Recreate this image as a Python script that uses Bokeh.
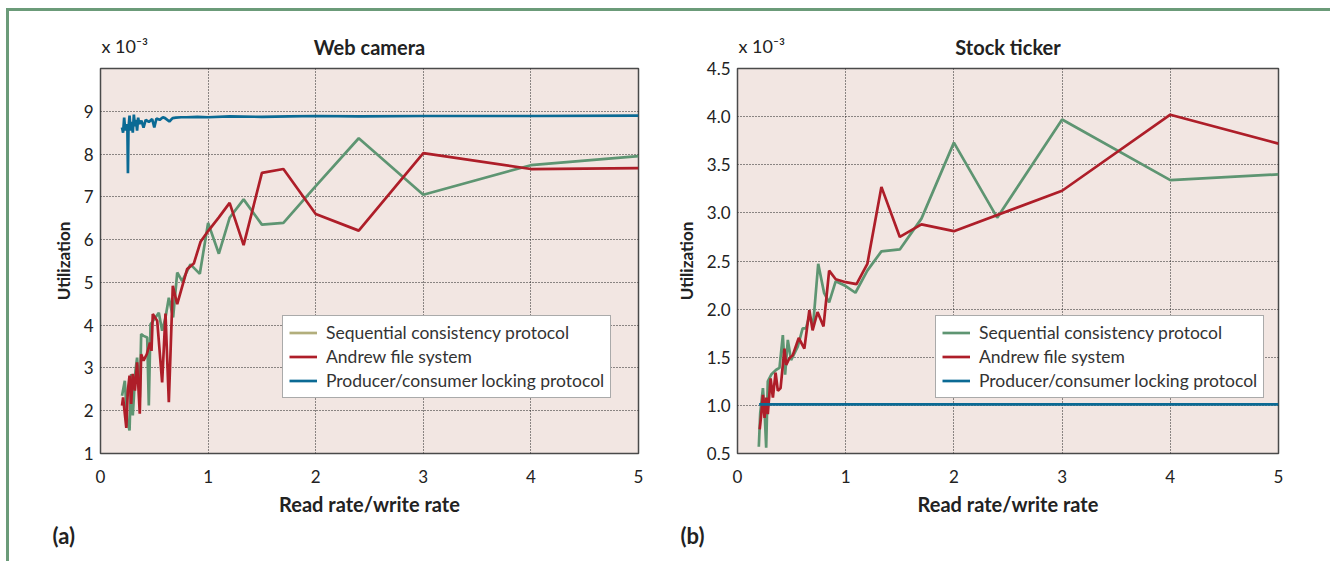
from bokeh.plotting import figure
from bokeh.models import (FixedTicker, NumeralTickFormatter, Legend, LegendItem,
                          Div, Spacer, Range1d, Title)
from bokeh.layouts import row, column
from bokeh.embed import file_html
from bokeh.resources import INLINE

# ---------------- data (values in units of 1e-3) ----------------
# (a) Web camera
web_seq_x = [0.20, 0.226, 0.248, 0.27, 0.285, 0.30, 0.325, 0.34, 0.365, 0.378,
             0.40, 0.434, 0.449, 0.465, 0.511, 0.542, 0.573, 0.604, 0.635, 0.675,
             0.713, 0.759, 0.836, 0.923, 1.0, 1.1, 1.2, 1.33, 1.5, 1.7,
             2.0, 2.4, 3.0, 4.0, 5.0]
web_seq_y = [2.35, 2.70, 1.77, 1.54, 2.86, 1.89, 2.93, 3.24, 2.31, 3.79,
             3.75, 3.71, 2.12, 4.02, 4.18, 4.29, 3.87, 4.18, 4.64, 4.18,
             5.23, 5.03, 5.42, 5.20, 6.39, 5.67, 6.51, 6.94, 6.35, 6.39,
             7.25, 8.37, 7.05, 7.74, 7.95]
web_afs_x = [0.20, 0.21, 0.24, 0.254, 0.27, 0.285, 0.30, 0.32, 0.34, 0.365,
             0.378, 0.40, 0.43, 0.46, 0.474, 0.486, 0.527, 0.573, 0.604, 0.635,
             0.672, 0.713, 0.805, 0.867, 0.93, 1.0, 1.1, 1.2, 1.33, 1.5,
             1.7, 2.0, 2.4, 3.0, 4.0, 5.0]
web_afs_y = [2.12, 2.31, 1.60, 2.47, 2.82, 2.16, 2.86, 2.47, 3.13, 1.93,
             3.32, 3.17, 3.32, 3.59, 3.40, 4.26, 4.10, 2.66, 4.27, 2.20,
             4.92, 4.49, 5.31, 5.44, 5.95, 6.20, 6.52, 6.86, 5.87, 7.56,
             7.65, 6.60, 6.21, 8.02, 7.65, 7.67]
web_pc_x = [0.20, 0.21, 0.22, 0.23, 0.24, 0.25, 0.255, 0.26, 0.27, 0.28,
            0.29, 0.30, 0.31, 0.32, 0.33, 0.34, 0.35, 0.36, 0.38, 0.40,
            0.42, 0.45, 0.48, 0.50, 0.52, 0.55, 0.58, 0.60, 0.64, 0.67,
            0.70, 0.75, 0.80, 0.90, 1.0, 1.2, 1.5, 1.75, 2.0, 2.4,
            3.0, 4.0, 5.0]
web_pc_y = [8.62, 8.50, 8.85, 8.55, 8.70, 8.60, 7.55, 8.60, 8.90, 8.55,
            8.75, 8.50, 8.92, 8.65, 8.80, 8.55, 8.85, 8.70, 8.78, 8.62,
            8.80, 8.75, 8.82, 8.62, 8.83, 8.80, 8.86, 8.84, 8.76, 8.84,
            8.85, 8.86, 8.86, 8.87, 8.86, 8.88, 8.87, 8.88, 8.89, 8.88,
            8.89, 8.89, 8.90]

# (b) Stock ticker
stk_seq_x = [0.197, 0.21, 0.235, 0.25, 0.265, 0.28, 0.312, 0.358, 0.388, 0.419,
             0.44, 0.465, 0.495, 0.557, 0.602, 0.633, 0.664, 0.70, 0.746, 0.80,
             0.847, 0.908, 1.0, 1.09, 1.2, 1.33, 1.5, 1.7, 2.0, 2.4,
             3.0, 4.0, 5.0]
stk_seq_y = [0.57, 0.92, 1.18, 0.95, 0.56, 1.25, 1.32, 1.37, 1.39, 1.73,
             1.32, 1.68, 1.47, 1.61, 1.80, 1.80, 1.93, 1.85, 2.47, 2.17,
             2.07, 2.29, 2.24, 2.17, 2.40, 2.60, 2.62, 2.94, 3.73, 2.95,
             3.97, 3.34, 3.40]
stk_afs_x = [0.205, 0.22, 0.235, 0.25, 0.266, 0.28, 0.306, 0.327, 0.352, 0.373,
             0.398, 0.434, 0.45, 0.48, 0.51, 0.566, 0.618, 0.664, 0.694, 0.74,
             0.795, 0.847, 0.908, 1.0, 1.1, 1.2, 1.33, 1.5, 1.7, 2.0,
             3.0, 4.0, 5.0]
stk_afs_y = [0.75, 0.91, 1.11, 0.87, 1.08, 0.91, 1.28, 1.08, 1.34, 1.15,
             1.18, 1.59, 1.42, 1.49, 1.52, 1.70, 1.59, 1.99, 1.78, 1.97,
             1.82, 2.40, 2.31, 2.28, 2.26, 2.47, 3.27, 2.75, 2.88, 2.81,
             3.23, 4.02, 3.72]
stk_pc_x = [0.20, 0.30, 0.50, 1.0, 2.0, 3.0, 4.0, 5.0]
stk_pc_y = [1.01, 1.01, 1.01, 1.01, 1.01, 1.01, 1.01, 1.01]

x_ticks = [0, 1, 2, 3, 4, 5]
web_y_ticks = [1, 2, 3, 4, 5, 6, 7, 8, 9]
stk_y_ticks = [0.5, 1.0, 1.5, 2.0, 2.5, 3.0, 3.5, 4.0, 4.5]

series_names = ["Sequential consistency protocol", "Andrew file system",
                "Producer/consumer locking protocol"]

# ---------------- style ----------------
FONT = "Lato"
BG = "#f2e6e2"
GREEN = "#5e9572"
RED = "#ae1e29"
BLUE = "#0b6a94"
KHAKI = "#b2ae7c"
FRAME = "#6b9b79"
TXT = "#222222"
LW = 2.7


def make_fig(title, width, bl, br, yr, yticks, fmt):
    p = figure(width=width, height=550, x_range=Range1d(0, 5), y_range=Range1d(*yr),
               title=None, output_backend="svg", toolbar_location=None,
               min_border_left=bl, min_border_right=br, min_border_top=57,
               min_border_bottom=108, background_fill_color=BG,
               border_fill_color="white", outline_line_color="#4a4a4a",
               outline_line_width=1.5)
    # exponent (inner panel) and chart title (outer panel, pulled down onto same line)
    p.add_layout(Title(text="x 10\u207b\u00b3", align="left", offset=1,
                       vertical_align="bottom", standoff=23, text_font=FONT,
                       text_font_size="18px", text_font_style="normal",
                       text_color=TXT), "above")
    p.add_layout(Title(text=title, align="center", vertical_align="bottom",
                       standoff=-74, text_font=FONT, text_font_size="20px",
                       text_font_style="bold", text_color=TXT), "above")

    for ax in (p.xaxis[0], p.yaxis[0]):
        ax.major_tick_line_color = None
        ax.minor_tick_line_color = None
        ax.major_tick_out = 0
        ax.major_tick_in = 0
        ax.minor_tick_out = 0
        ax.axis_line_color = None
        ax.major_label_text_font = FONT
        ax.major_label_text_font_size = "17px"
        ax.major_label_text_color = TXT
        ax.axis_label_text_font = FONT
        ax.axis_label_text_font_style = "bold"
        ax.axis_label_text_color = TXT
    p.xaxis.axis_label_text_font_size = "20px"
    p.yaxis.axis_label_text_font_size = "17px"
    p.xaxis.ticker = FixedTicker(ticks=x_ticks)
    p.yaxis.ticker = FixedTicker(ticks=yticks)
    if fmt:
        p.yaxis.formatter = NumeralTickFormatter(format=fmt)
    p.xaxis.axis_label = "Read rate/write rate"
    p.yaxis.axis_label = "Utilization"
    p.xaxis.major_label_standoff = 16
    p.yaxis.major_label_standoff = 7
    p.xaxis.axis_label_standoff = 6
    p.yaxis.axis_label_standoff = 7

    p.xgrid.ticker = FixedTicker(ticks=x_ticks)
    p.ygrid.ticker = FixedTicker(ticks=yticks)
    for g in (p.xgrid[0], p.ygrid[0]):
        g.grid_line_color = "#222222"
        g.grid_line_dash = "1 2"
        g.grid_line_width = 1
    return p


def add_tag(p, text, offset):
    p.add_layout(Title(text=text, align="left", offset=offset, text_font=FONT,
                       text_font_size="22px", text_font_style="bold",
                       text_color=TXT, standoff=2), "below")


p1 = make_fig("Web camera", 659, 91, 30, (1, 10), web_y_ticks, None)
g1 = p1.line(web_seq_x, web_seq_y, line_color=GREEN, line_width=LW)
r1 = p1.line(web_afs_x, web_afs_y, line_color=RED, line_width=LW)
b1 = p1.line(web_pc_x, web_pc_y, line_color=BLUE, line_width=LW)
k1 = p1.line(web_seq_x[:1], web_seq_y[:1], line_color=KHAKI, line_width=LW)
add_tag(p1, "(a)", -48)

p2 = make_fig("Stock ticker", 662, 69, 52, (0.5, 4.5), stk_y_ticks, "0.0")
g2 = p2.line(stk_seq_x, stk_seq_y, line_color=GREEN, line_width=LW)
r2 = p2.line(stk_afs_x, stk_afs_y, line_color=RED, line_width=LW)
b2 = p2.line(stk_pc_x, stk_pc_y, line_color=BLUE, line_width=LW)
add_tag(p2, "(b)", -57)


def add_legend(p, rends, loc):
    items = [LegendItem(label=n, renderers=[r]) for n, r in zip(series_names, rends)]
    lg = Legend(items=items, location=loc, background_fill_color="white",
                background_fill_alpha=1.0, border_line_color="#555555",
                border_line_width=1, label_text_font=FONT,
                label_text_font_size="17.5px", label_text_color="#333333",
                glyph_width=28, glyph_height=21, label_height=21,
                label_standoff=9, spacing=3, padding=6, margin=0)
    p.add_layout(lg)


add_legend(p1, [k1, r1, b1], (182, 55))
add_legend(p2, [g2, r2, b2], (198, 55))

top_line = Div(text="", width=1324, height=3, margin=0,
               styles={"background-color": FRAME})
left_line = Div(text="", width=3, height=550, margin=0,
                styles={"background-color": FRAME})
layout = column(
    Spacer(width=1330, height=8, margin=0),
    row(Spacer(width=6, height=3, margin=0), top_line),
    row(Spacer(width=6, height=550, margin=0), left_line, p1, p2),
)

open("out.html", "w").write(file_html(layout, INLINE))
